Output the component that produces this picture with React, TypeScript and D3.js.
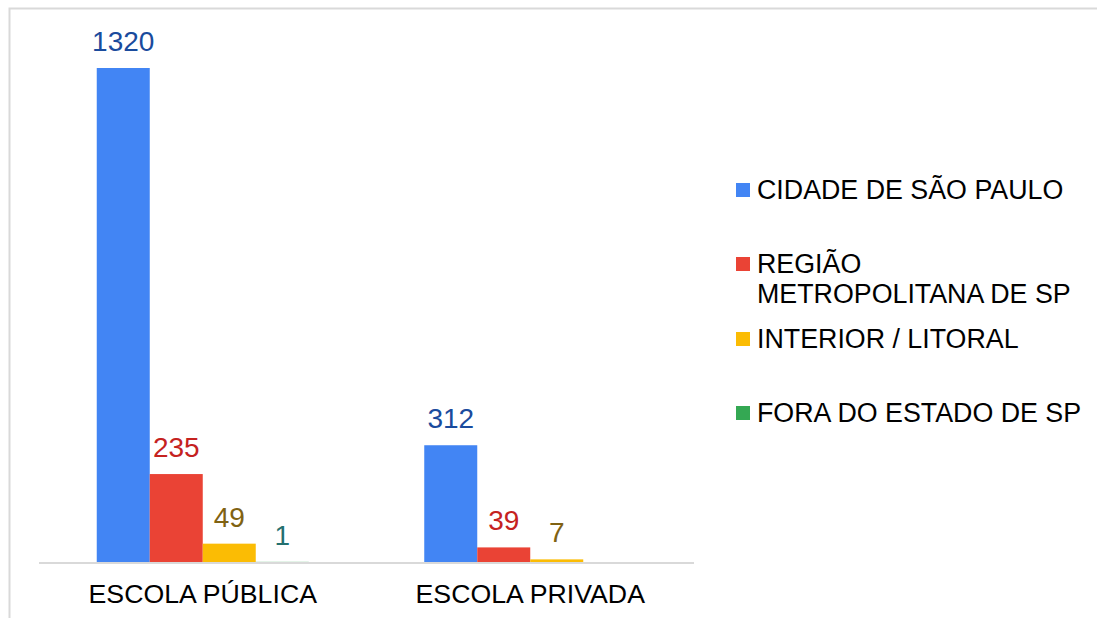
import React from 'react';
import * as d3 from 'd3';

const categories = ['ESCOLA PÚBLICA', 'ESCOLA PRIVADA'];
const seriesNames = [
  'CIDADE DE SÃO PAULO',
  'REGIÃO METROPOLITANA DE SP',
  'INTERIOR / LITORAL',
  'FORA DO ESTADO DE SP',
];
const legendLines = [
  ['CIDADE DE SÃO PAULO'],
  ['REGIÃO', 'METROPOLITANA DE SP'],
  ['INTERIOR / LITORAL'],
  ['FORA DO ESTADO DE SP'],
];
const cidadeSP = [1320, 312];
const regiaoMetro = [235, 39];
const interiorLitoral = [49, 7];
const foraEstado = [1, 0];
const seriesValues = [cidadeSP, regiaoMetro, interiorLitoral, foraEstado];

const barColors = ['#4285F4', '#EA4335', '#FBBC04', '#34A853'];
const labelColors = ['#1A4B9D', '#C5221F', '#806212', '#24706F'];

const W = 1097;
const H = 618;
const FONT = '"Liberation Sans", Arial, sans-serif';

export default function App() {
  const baseY = 562;
  const y = d3.scaleLinear().domain([0, 1320]).range([baseY, 68]);
  const x0 = d3.scaleBand<string>().domain(categories).range([39, 694]);
  const x1 = d3
    .scaleBand<string>()
    .domain(seriesNames)
    .range([-106, 106]);

  // legend rows: baselines of first lines
  const legendBase = [199, 273, 348, 422];

  return (
    <svg
      width={W}
      height={H}
      style={{ position: 'absolute', left: 0, top: 0, background: '#fff' }}
      fontFamily={FONT}
    >
      <rect x={9.5} y={8.5} width={W + 20} height={H + 20} fill="#fff" stroke="#d9d9d9" strokeWidth={2} />

      {categories.map((cat, ci) => {
        const cx = x0(cat)! + x0.bandwidth() / 2;
        return (
          <g key={cat}>
            {seriesNames.map((s, si) => {
              const v = seriesValues[si][ci];
              const bx = cx + x1(s)!;
              const top = y(v);
              return (
                <g key={s}>
                  {v > 0 && (
                    <rect
                      x={bx}
                      y={top}
                      width={x1.bandwidth()}
                      height={Math.max(baseY - top, 1)}
                      fill={barColors[si]}
                      opacity={baseY - top < 1 ? 0.35 : 1}
                    />
                  )}
                  {v > 0 && (
                    <text
                      x={bx + x1.bandwidth() / 2}
                      y={top - 17}
                      textAnchor="middle"
                      fontSize={28}
                      fill={labelColors[si]}
                    >
                      {v}
                    </text>
                  )}
                </g>
              );
            })}
            <text x={cx} y={603} textAnchor="middle" fontSize={26.7} fill="#000">
              {cat}
            </text>
          </g>
        );
      })}

      <line x1={39} x2={694} y1={563} y2={563} stroke="#d9d9d9" strokeWidth={2} />

      {legendLines.map((lines, i) => (
        <g key={i}>
          <rect x={736} y={legendBase[i] - 16} width={14} height={14} fill={barColors[i]} />
          {lines.map((ln, li) => (
            <text key={li} x={757} y={legendBase[i] + li * 30} fontSize={26.8} fill="#000">
              {ln}
            </text>
          ))}
        </g>
      ))}
    </svg>
  );
}
